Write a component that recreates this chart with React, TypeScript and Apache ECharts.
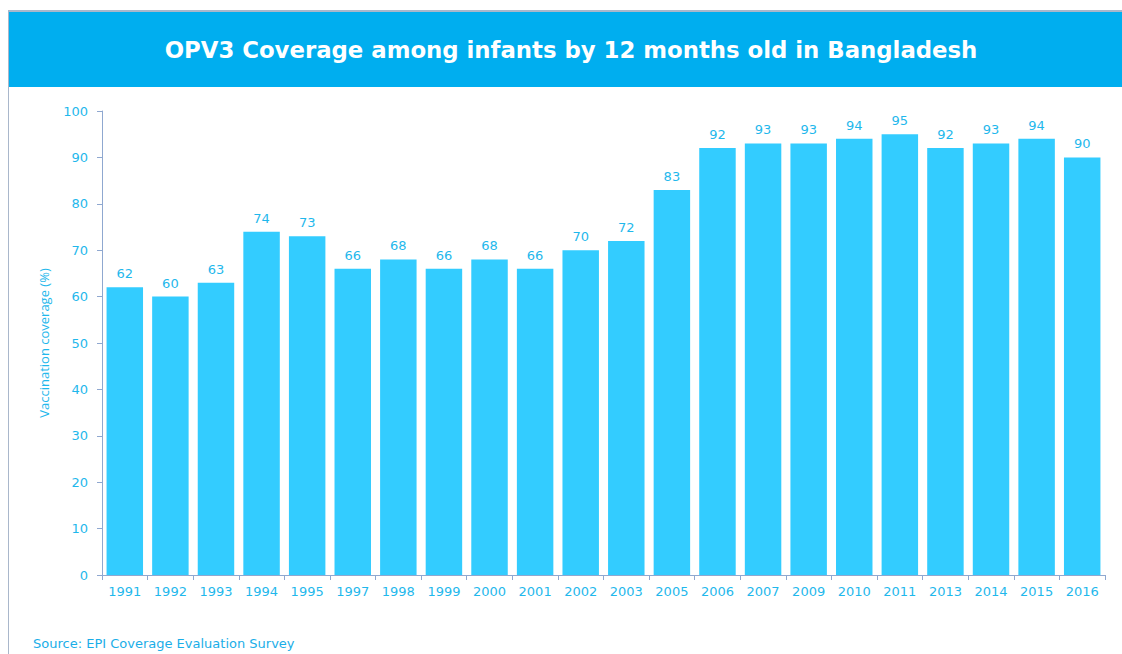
import React, { useEffect, useRef } from "react";
import * as echarts from "echarts";

const years = ["1991","1992","1993","1994","1995","1997","1998","1999","2000","2001","2002","2003","2005","2006","2007","2009","2010","2011","2013","2014","2015","2016"];
const coverage = [62,60,63,74,73,66,68,66,68,66,70,72,83,92,93,93,94,95,92,93,94,90];
const yTicks = { min: 0, max: 100, interval: 10 };
const titleText = "OPV3 Coverage among infants by 12 months old in Bangladesh";
const yAxisTitle = "Vaccination coverage (%)";
const sourceText = "Source: EPI Coverage Evaluation Survey";

export default function App() {
  const ref = useRef<HTMLDivElement>(null);
  useEffect(() => {
    if (!ref.current) return;
    const chart = echarts.init(ref.current, null, { renderer: "svg" });
    const labelColor = "#1FB8EC";
    const font = "'DejaVu Sans', sans-serif";
    chart.setOption({
      animation: false,
      backgroundColor: "#ffffff",
      textStyle: { fontFamily: font },
      graphic: [
        { type: "line", shape: { x1: 8, y1: 11, x2: 1122, y2: 11 }, style: { stroke: "#A9B7CB", lineWidth: 2 } },
        { type: "line", shape: { x1: 8.5, y1: 11, x2: 8.5, y2: 654 }, style: { stroke: "#A9B7CB", lineWidth: 1 } },
        { type: "rect", shape: { x: 9, y: 12, width: 1113, height: 75 }, style: { fill: "#00AEEF" } },
        {
          type: "text", x: 571, y: 50,
          style: { text: titleText, fill: "#ffffff", font: "bold 22.8px 'DejaVu Sans', sans-serif", textAlign: "center", textVerticalAlign: "middle" },
        },
        {
          type: "text", x: 33, y: 643,
          style: { text: sourceText, fill: "#1AAEE8", font: "13px 'DejaVu Sans', sans-serif", textAlign: "left", textVerticalAlign: "middle" },
        },
      ],
      grid: { left: 102, right: 17, top: 111, bottom: 79 },
      xAxis: {
        type: "category",
        data: years,
        axisLine: { lineStyle: { color: "#8FA8D0", width: 1 } },
        axisTick: { show: true, length: 5, lineStyle: { color: "#8FA8D0" } },
        axisLabel: { color: labelColor, fontSize: 13, margin: 10, fontFamily: font },
      },
      yAxis: {
        type: "value",
        min: yTicks.min, max: yTicks.max, interval: yTicks.interval,
        name: yAxisTitle,
        nameLocation: "middle",
        nameGap: 52,
        nameRotate: 90,
        nameTextStyle: { color: labelColor, fontSize: 13, fontFamily: "'Liberation Sans Narrow', 'Open Sans', sans-serif" },
        axisLine: { show: true, lineStyle: { color: "#8FA8D0", width: 1 } },
        axisTick: { show: true, length: 5, lineStyle: { color: "#8FA8D0" } },
        splitLine: { show: false },
        axisLabel: { color: labelColor, fontSize: 13, margin: 14, fontFamily: font },
      },
      series: [
        {
          type: "bar",
          data: coverage,
          barCategoryGap: "20%",
          itemStyle: { color: "#33CCFF" },
          label: { show: true, position: "top", distance: 7, color: labelColor, fontSize: 13, fontFamily: font },
        },
      ],
    });
    return () => chart.dispose();
  }, []);
  return <div ref={ref} style={{ position: "fixed", left: 0, top: 0, width: 1122, height: 654 }} />;
}
